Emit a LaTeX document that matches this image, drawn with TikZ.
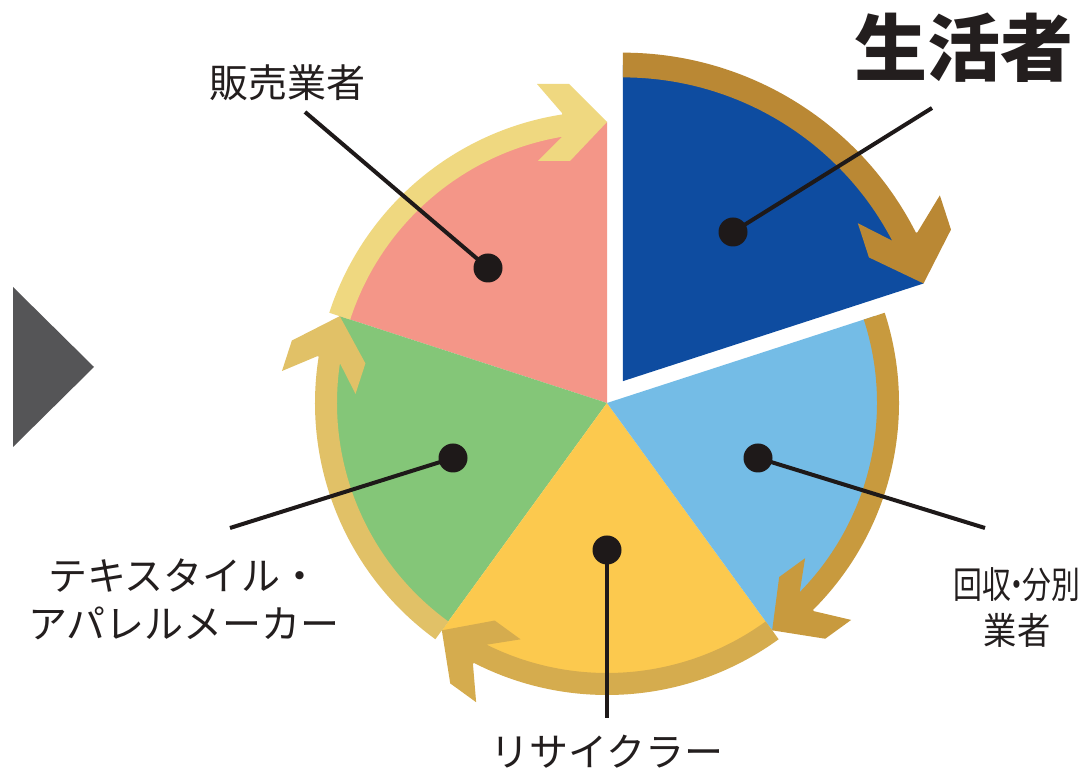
\documentclass[tikz,border=0pt]{standalone}
\usepackage{graphicx}
\usepackage{fontspec}
\setmainfont{Noto Sans CJK JP}
\usetikzlibrary{calc}
\definecolor{pinkW}{RGB}{244,150,136}
\definecolor{greenW}{RGB}{132,198,120}
\definecolor{yellowW}{RGB}{252,201,78}
\definecolor{lblueW}{RGB}{116,188,230}
\definecolor{dblueW}{RGB}{14,76,160}
\definecolor{bandA}{RGB}{239,216,128}
\definecolor{bandB}{RGB}{225,193,103}
\definecolor{bandC}{RGB}{213,172,78}
\definecolor{bandD}{RGB}{200,154,62}
\definecolor{bandE}{RGB}{186,136,52}
\definecolor{triG}{RGB}{85,85,87}
\definecolor{inkK}{RGB}{30,25,25}
\definecolor{txtK}{RGB}{35,30,30}
\newcommand{\tightdot}{\kern-0.3em・\kern-0.3em}
\tikzset{
  pics/ringarrow/.style n args={2}{code={
    \fill[#2] ({#1}:292) arc[start angle={#1}, end angle={#1-64}, radius=292]
      -- ({#1-64}:270) arc[start angle={#1-64}, end angle={#1}, radius=270] -- cycle;
    \begin{scope}[shift={({#1-72}:281)}, rotate={#1-162}]
      \fill[#2] (0,0) -- (-38,38) -- (-70,38) -- (-45,9) -- (-45,-15) -- (-69,-39) -- (-37,-39) -- cycle;
    \end{scope}
  }},
  pics/sector/.style n args={2}{code={
    \fill[#2] (0,0) -- ({#1}:281) arc[start angle={#1}, end angle={#1+72}, radius=281] -- cycle;
  }},
  dotn/.style={circle, fill=inkK, minimum size=29pt, inner sep=0pt},
  leader/.style={draw=inkK, line width=4pt},
  lab/.style={text=txtK, inner sep=0pt, font=\fontsize{39}{48}\selectfont, align=center}
}
\begin{document}
\begin{tikzpicture}[x=1pt,y=1pt]
\useasboundingbox (0,0) rectangle (1082,776);
\fill[white] (0,0) rectangle (1082,776);
\coordinate (C) at (607,373);
\coordinate (A) at ($(C)+(54:27)$);
% left triangle
\fill[triG] (13,489) -- (94,409) -- (13,329) -- cycle;
% wedges
\pic at (C) {sector={90}{pinkW}};
\pic at (C) {sector={162}{greenW}};
\pic at (C) {sector={234}{yellowW}};
\pic at (C) {sector={-54}{lblueW}};
\pic[scale=1.125] at (A) {sector={18}{dblueW}};
% ring arrows
\pic at (C) {ringarrow={162}{bandA}};
\pic at (C) {ringarrow={234}{bandB}};
\pic at (C) {ringarrow={306}{bandC}};
\pic at (C) {ringarrow={18}{bandD}};
\pic[scale=1.125] at (A) {ringarrow={90}{bandE}};
% dots
\node[dotn] (dP) at (488,508) {};
\node[dotn] (dB) at (733,544) {};
\node[dotn] (dL) at (758,318) {};
\node[dotn] (dY) at (607,226) {};
\node[dotn] (dG) at (453,318) {};
\coordinate (eP) at (305,664);
\coordinate (eB) at (932,668);
\coordinate (eL) at (985,248);
\coordinate (eY) at (607,58);
\coordinate (eG) at (230,248);
\draw[leader] (dP.center) -- (eP);
\draw[leader] (dB.center) -- (eB);
\draw[leader] (dL.center) -- (eL);
\draw[leader] (dY.center) -- (eY);
\draw[leader] (dG.center) -- (eG);
% labels
\node[lab] (tHanbai) at (287,693) {販売業者};
\node[lab, font=\bfseries\fontsize{73}{80}\selectfont] (tSeikatsu) at (964,728) {生活者};
\node[lab, font=\fontsize{37}{46}\selectfont] (tKaishu) at (1017,168) {\scalebox{0.78}[1]{回収\tightdot 分別}\\\scalebox{0.9}[1]{業者}};
\node[lab] (tRecycler) at (607,24) {リサイクラー};
\node[lab] (tTextile) at (184,177) {テキスタイル・\\アパレルメーカー};
\end{tikzpicture}
\end{document}
